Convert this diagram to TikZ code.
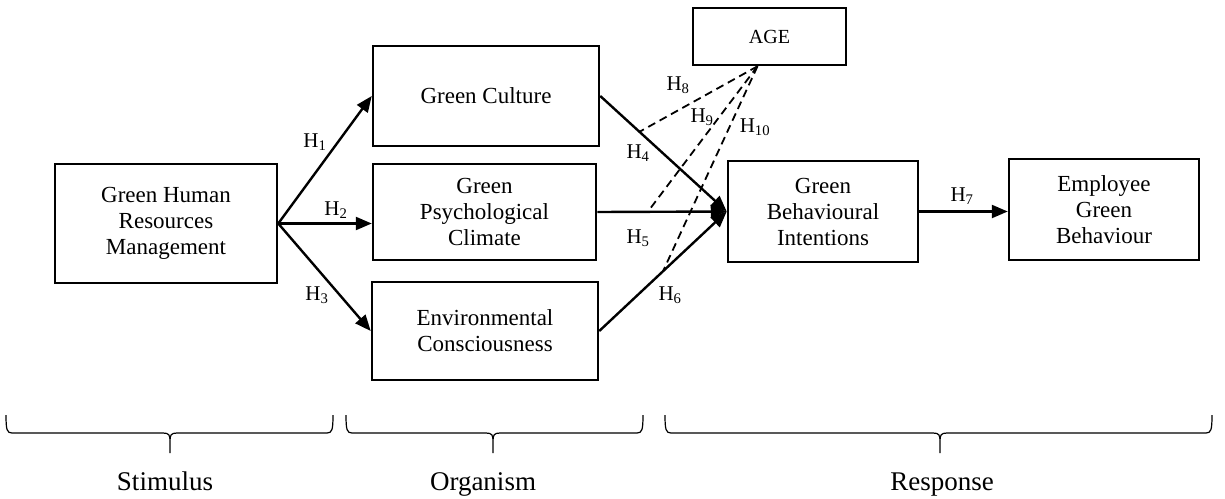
\documentclass[tikz,border=0pt]{standalone}
\usepackage{fontspec}
\setmainfont{Liberation Serif}
\usetikzlibrary{arrows.meta}

% flat brace under a stage: left end, tip, right end
\newcommand\sorbrace[3]{%
  \draw[stage] (#1,415) .. controls (#1,430) and (#1+1,433) .. (#1+6,433) -- (#2-7,433)
    .. controls (#2-1,433) and (#2,435) .. (#2,441) -- (#2,453)
    (#2,441) .. controls (#2,435) and (#2+1,433) .. (#2+7,433) -- (#3-6,433)
    .. controls (#3-1,433) and (#3,430) .. (#3,415);}

\begin{document}
\begin{tikzpicture}[x=1pt,y=-1pt,
  box/.style={draw,line width=2.5pt,align=center,inner sep=0pt,font=\fontsize{23}{26}\selectfont},
  hyp/.style={line width=2.4pt,-{Triangle[length=16pt,width=13pt]}},
  modline/.style={line width=1.8pt,dash pattern=on 8pt off 5pt},
  hlab/.style={font=\fontsize{21}{24}\selectfont,inner sep=0pt},
  stage/.style={line width=1.2pt},
  stagelab/.style={font=\fontsize{27}{30}\selectfont,anchor=base}]
\useasboundingbox (0,0) rectangle (1225,498);
% constructs
\node[box,minimum width=222pt,minimum height=119pt] (ghrm) at (166,223.5) {Green Human\\Resources\\Management};
\node[box,minimum width=226pt,minimum height=100pt] (gc) at (486,96) {Green Culture};
\node[box,minimum width=223pt,minimum height=96pt] (gpc) at (484.5,212) {Green\\Psychological\\Climate};
\node[box,minimum width=226pt,minimum height=98pt] (ec) at (485,331) {Environmental\\Consciousness};
\node[box,minimum width=153pt,minimum height=57pt,font=\fontsize{20}{24}\selectfont] (age) at (769.5,36.5) {AGE};
\node[box,minimum width=190pt,minimum height=101pt] (gbi) at (823,211.5) {Green\\Behavioural\\Intentions};
\node[box,minimum width=190pt,minimum height=101pt] (egb) at (1104,209.5) {Employee\\Green\\Behaviour};
% direct paths
\draw[hyp] (ghrm.east) -- (gc.west);
\draw[hyp] (ghrm.east) -- (ghrm.east -| gpc.west);
\draw[hyp] (ghrm.east) -- (ec.west);
\draw[hyp] (gc.east) -- coordinate[pos=0.31] (m4) (gbi.west);
\draw[hyp] (gpc.east) -- coordinate[pos=0.39] (m5) (gbi.west);
\draw[hyp] (ec.east) -- coordinate[pos=0.5] (m6) (gbi.west);
\draw[hyp] (gbi.east) -- (gbi.east -| egb.west);
% moderation by age
\coordinate (agefoot) at ([xshift=-12pt]age.south);
\draw[modline] (agefoot) -- (m4);
\draw[modline] (agefoot) -- (m5);
\draw[modline] (agefoot) -- (m6);
% hypothesis labels
\node[hlab] (h1) at (315,142) {H\textsubscript{1}};
\node[hlab] (h2) at (336,210) {H\textsubscript{2}};
\node[hlab] (h3) at (317,295) {H\textsubscript{3}};
\node[hlab] (h4) at (638,153) {H\textsubscript{4}};
\node[hlab] (h5) at (638,238) {H\textsubscript{5}};
\node[hlab] (h6) at (670,295) {H\textsubscript{6}};
\node[hlab] (h7) at (962,196) {H\textsubscript{7}};
\node[hlab] (h8) at (678,85) {H\textsubscript{8}};
\node[hlab] (h9) at (702,117) {H\textsubscript{9}};
\node[hlab] (h10) at (755,127) {H\textsubscript{10}};
% S-O-R stages
\sorbrace{6}{170}{333}
\sorbrace{346}{493}{643}
\sorbrace{665}{940}{1212}
\node[stagelab] (stim) at (165,490) {Stimulus};
\node[stagelab] (org) at (483,490) {Organism};
\node[stagelab] (resp) at (942,490) {Response};
\end{tikzpicture}
\end{document}
